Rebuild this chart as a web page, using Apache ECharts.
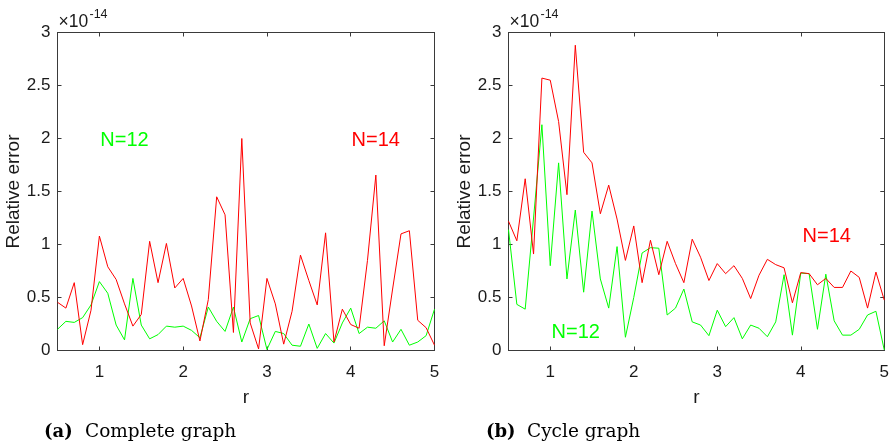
<!DOCTYPE html>
<html>
<head>
<meta charset="utf-8">
<script src="https://cdn.jsdelivr.net/npm/echarts@6/dist/echarts.min.js"></script>
<style>html,body{margin:0;padding:0;background:#fff}#c{width:892px;height:446px}</style>
</head>
<body>
<div id="c"></div>
<script>
var rValues = [0.5,0.6,0.7,0.8,0.9,1.0,1.1,1.2,1.3,1.4,1.5,1.6,1.7,1.8,1.9,2.0,2.1,2.2,2.3,2.4,2.5,2.6,2.7,2.8,2.9,3.0,3.1,3.2,3.3,3.4,3.5,3.6,3.7,3.8,3.9,4.0,4.1,4.2,4.3,4.4,4.5,4.6,4.7,4.8,4.9,5.0];
var xTicks = [1,2,3,4,5];
var yTicks = [0,0.5,1,1.5,2,2.5,3];
// values in units of 1e-14
var completeN12 = [0.20,0.275,0.265,0.31,0.43,0.65, 0.54,0.24,0.10,0.68,0.24,0.11,0.15,0.23,0.22,0.23, 0.19,0.12,0.41,0.275,0.18,0.41,0.08,0.30,0.33,0.01, 0.18,0.16,0.05,0.04,0.25,0.02,0.16,0.07,0.26,0.40, 0.16,0.22,0.21,0.28,0.08,0.20,0.05,0.08,0.14,0.39];
var completeN14 = [0.455,0.40,0.64,0.055,0.38,1.08, 0.79,0.67,0.44,0.23,0.34,1.03,0.64,1.01,0.59,0.68, 0.42,0.09,0.48,1.45,1.28,0.17,2.0,0.26,0.015,0.68, 0.44,0.06,0.37,0.90,0.66,0.43,1.11,0.08,0.39,0.245, 0.21,0.85,1.655,0.045,0.58,1.10,1.13,0.285,0.215,0.05];
var cycleN12 = [1.14,0.435,0.39,1.25,2.13,0.80, 1.77,0.675,1.325,0.55,1.315,0.675,0.40,0.98,0.125,0.50, 0.92,0.97,0.965,0.335,0.40,0.58,0.27,0.24,0.14,0.38, 0.225,0.31,0.11,0.24,0.21,0.13,0.27,0.715,0.145,0.73, 0.725,0.20,0.72,0.28,0.145,0.145,0.20,0.335,0.37,0.005];
var cycleN14 = [1.22,1.035,1.62,0.91,2.57,2.55, 2.16,1.47,2.88,1.87,1.77,1.29,1.56,1.24,0.85,1.175, 0.64,1.04,0.715,1.03,0.82,0.64,1.05,0.88,0.66,0.82, 0.725,0.80,0.68,0.49,0.71,0.86,0.81,0.78,0.45,0.735, 0.725,0.62,0.68,0.595,0.595,0.75,0.69,0.40,0.74,0.475];

var GREEN = '#00ff00', RED = '#ff0000';
var AX = '#3a3a3a', TXT = '#1a1a1a';
var FONT = '"Liberation Sans", Arial, sans-serif';

function pairs(vals){ return rValues.map(function(r,i){ return [r, vals[i]]; }); }

function xAx(grid, top){
  return {
    type:'value', gridIndex:grid, position: top ? 'top' : 'bottom',
    min:0.5, max:5,
    axisLine:{show:true, onZero:false, lineStyle:{color:AX, width:1}},
    axisTick:{show:true, inside:true, length:4, customValues:xTicks, lineStyle:{color:AX}},
    axisLabel: top ? {show:false} : {show:true, customValues:xTicks, margin:13, color:TXT, fontSize:17, fontFamily:FONT},
    splitLine:{show:false},
    name: top ? '' : 'r', nameLocation:'middle', nameGap:38,
    nameTextStyle:{color:TXT, fontSize:19, fontFamily:FONT}
  };
}
function yAx(grid, right){
  return {
    type:'value', gridIndex:grid, position: right ? 'right' : 'left',
    min:0, max:3, interval:0.5,
    axisLine:{show:true, onZero:false, lineStyle:{color:AX, width:1}},
    axisTick:{show:true, inside:true, length:4, lineStyle:{color:AX}},
    axisLabel: right ? {show:false} : {show:true, margin:7, color:TXT, fontSize:17, fontFamily:FONT},
    splitLine:{show:false},
    name: right ? '' : 'Relative error', nameLocation:'middle', nameGap:34,
    nameTextStyle:{color:TXT, fontSize:19, fontFamily:FONT}
  };
}
function line(vals, color, xi, yi){
  return {type:'line', data:pairs(vals), xAxisIndex:xi, yAxisIndex:yi, showSymbol:false, symbol:'none',
    lineStyle:{color:color, width:1}, itemStyle:{color:color}, z:2};
}
function txt(x, y, s, size, color, family, weight, align){
  return {type:'text', x:x, y:y, silent:true,
    style:{text:s, fill:color, font:(weight||'normal')+' '+size+'px '+(family||FONT), align:align||'center', verticalAlign:'middle'}};
}

var chart = echarts.init(document.getElementById('c'), null, {renderer:'canvas'});
chart.setOption({
  animation:false,
  backgroundColor:'#ffffff',
  grid:[
    {left:57.5, top:32.5, width:377, height:318},
    {left:508.5, top:32.5, width:377, height:318}
  ],
  xAxis:[xAx(0,false), xAx(0,true), xAx(1,false), xAx(1,true)],
  yAxis:[yAx(0,false), yAx(0,true), yAx(1,false), yAx(1,true)],
  series:[
    line(completeN12, GREEN, 0, 0),
    line(completeN14, RED, 0, 0),
    line(cycleN12, GREEN, 2, 2),
    line(cycleN14, RED, 2, 2)
  ],
  graphic:[
    txt(58.5, 22, '\u00d710', 17.5, TXT, FONT, 'normal', 'left'),
    txt(89.5, 15, '-14', 12.5, TXT, FONT, 'normal', 'left'),
    txt(509.5, 22, '\u00d710', 17.5, TXT, FONT, 'normal', 'left'),
    txt(540.5, 15, '-14', 12.5, TXT, FONT, 'normal', 'left'),
    txt(124.5, 140, 'N=12', 20, GREEN),
    txt(375.8, 140, 'N=14', 20, RED),
    txt(826.8, 236, 'N=14', 20, RED),
    txt(575.7, 332, 'N=12', 20, GREEN),
    txt(44, 432, '(a)', 18, '#000', '"DejaVu Serif", serif', 'bold', 'left'),
    txt(85, 432, 'Complete graph', 18.5, '#000', '"DejaVu Serif", serif', 'normal', 'left'),
    txt(486, 432, '(b)', 18, '#000', '"DejaVu Serif", serif', 'bold', 'left'),
    txt(527, 432, 'Cycle graph', 18.5, '#000', '"DejaVu Serif", serif', 'normal', 'left')
  ]
});
</script>
</body>
</html>
